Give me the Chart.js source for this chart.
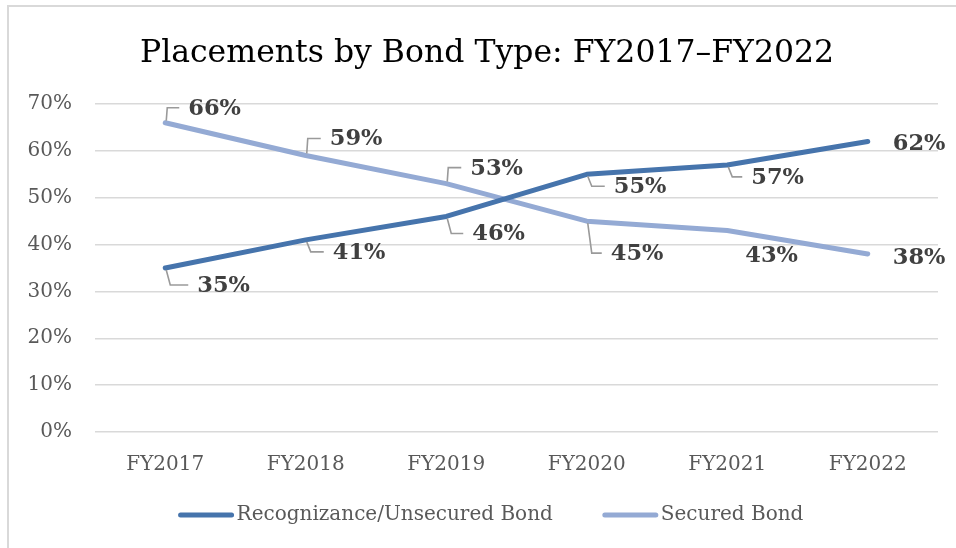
<!DOCTYPE html>
<html><head><meta charset="utf-8">
<script src="https://cdn.jsdelivr.net/npm/chart.js@4"></script>
<style>html,body{margin:0;padding:0;background:#fff;overflow:hidden}canvas{display:block}</style>
</head><body>
<canvas id="c" width="956" height="548"></canvas>
<script>
const categories = ['FY2017', 'FY2018', 'FY2019', 'FY2020', 'FY2021', 'FY2022'];
const recognizance = [35, 41, 46, 55, 57, 62];
const secured = [66, 59, 53, 45, 43, 38];
const yTicks = [0, 10, 20, 30, 40, 50, 60, 70];
const seriesNames = ['Recognizance/Unsecured Bond', 'Secured Bond'];
const chartTitle = 'Placements by Bond Type: FY2017\u2013FY2022';

// data-label placement: [dx to label left edge, dy to label centre, leader line?]
const labelPlacement = [
  [[32, 17, true], [27, 12, true], [26, 17, true], [27, 12, true], [24, 12, true], [25, 2, false]],
  [[23, -15, true], [24, -17, true], [24, -16, true], [24, 32, true], [18, 25, false], [25, 3, false]]
];

const FONT = "'DejaVu Serif', serif";
const COLORS = ['#4674AC', '#94AAD4'];

const decor = {
  id: 'decor',
  beforeDraw(chart) {
    const ctx = chart.ctx;
    ctx.save();
    ctx.fillStyle = '#fff';
    ctx.fillRect(0, 0, chart.width, chart.height);
    ctx.strokeStyle = '#d9d9d9';
    ctx.lineWidth = 2;
    ctx.strokeRect(8, 6, 1200, 1200);
    // title
    ctx.fillStyle = '#000';
    ctx.font = "31.5px " + FONT;
    ctx.textAlign = 'center';
    ctx.textBaseline = 'alphabetic';
    ctx.fillText(chartTitle, 487, 62);
    ctx.restore();
  },
  afterDatasetsDraw(chart) {
    const ctx = chart.ctx;
    ctx.save();
    ctx.font = "bold 22.5px " + FONT;
    ctx.textAlign = 'left';
    ctx.textBaseline = 'middle';
    chart.data.datasets.forEach((ds, di) => {
      const meta = chart.getDatasetMeta(di);
      meta.data.forEach((pt, i) => {
        const [dx, dy, leader] = labelPlacement[di][i];
        const tx = pt.x + dx, ty = pt.y + dy;
        if (leader) {
          ctx.strokeStyle = '#9a9a9a';
          ctx.lineWidth = 1.6;
          ctx.beginPath();
          const e = dy > 0 ? 5 : 2;
          ctx.moveTo(pt.x + 1, pt.y + (dy > 0 ? 2 : -2));
          ctx.lineTo(pt.x + e, ty);
          ctx.lineTo(tx - 9, ty);
          ctx.stroke();
        }
        ctx.fillStyle = '#404040';
        ctx.fillText(ds.data[i] + '%', tx, ty + 1);
      });
    });
    ctx.restore();
  },
  afterDraw(chart) {
    const ctx = chart.ctx;
    ctx.save();
    ctx.font = "20px " + FONT;
    ctx.textBaseline = 'middle';
    ctx.textAlign = 'left';
    const lineLen = 55, gapT = 3, gapItem = 50, y = 515;
    const widths = seriesNames.map(n => ctx.measureText(n).width);
    let total = 0;
    widths.forEach((w, i) => { total += lineLen + gapT + w + (i ? gapItem : 0); });
    let x = 491 - total / 2;
    seriesNames.forEach((n, i) => {
      ctx.strokeStyle = COLORS[i];
      ctx.lineWidth = 5;
      ctx.lineCap = 'round';
      ctx.beginPath();
      ctx.moveTo(x + 2, y);
      ctx.lineTo(x + lineLen - 2, y);
      ctx.stroke();
      ctx.fillStyle = '#595959';
      ctx.fillText(n, x + lineLen + gapT, y);
      x += lineLen + gapT + widths[i] + gapItem;
    });
    ctx.restore();
  }
};

new Chart(document.getElementById('c'), {
  type: 'line',
  data: {
    labels: categories,
    datasets: [
      { label: seriesNames[0], data: recognizance, borderColor: COLORS[0], backgroundColor: COLORS[0], borderWidth: 5, pointRadius: 0, borderCapStyle: 'round', borderJoinStyle: 'round', tension: 0 },
      { label: seriesNames[1], data: secured, borderColor: COLORS[1], backgroundColor: COLORS[1], borderWidth: 5, pointRadius: 0, borderCapStyle: 'round', borderJoinStyle: 'round', tension: 0 }
    ]
  },
  options: {
    responsive: false,
    animation: false,
    devicePixelRatio: 1,
    layout: { padding: { top: 104, right: 18, bottom: 66, left: 0 } },
    plugins: { legend: { display: false }, title: { display: false }, tooltip: { enabled: false } },
    scales: {
      x: {
        type: 'category',
        offset: true,
        grid: { display: false, drawTicks: false },
        border: { display: false },
        ticks: { font: { family: FONT, size: 20 }, color: '#595959', padding: 21, maxRotation: 0 },
        afterFit: s => { s.height = 50; }
      },
      y: {
        min: 0, max: 70,
        afterBuildTicks: s => { s.ticks = yTicks.map(v => ({ value: v })); },
        ticks: { font: { family: FONT, size: 20 }, color: '#595959', padding: 23, callback: v => v + '%' },
        grid: { color: '#d9d9d9', lineWidth: 1.5, drawTicks: false },
        border: { display: false },
        afterFit: s => { s.width = 95; }
      }
    }
  },
  plugins: [decor]
});
</script>
</body></html>
